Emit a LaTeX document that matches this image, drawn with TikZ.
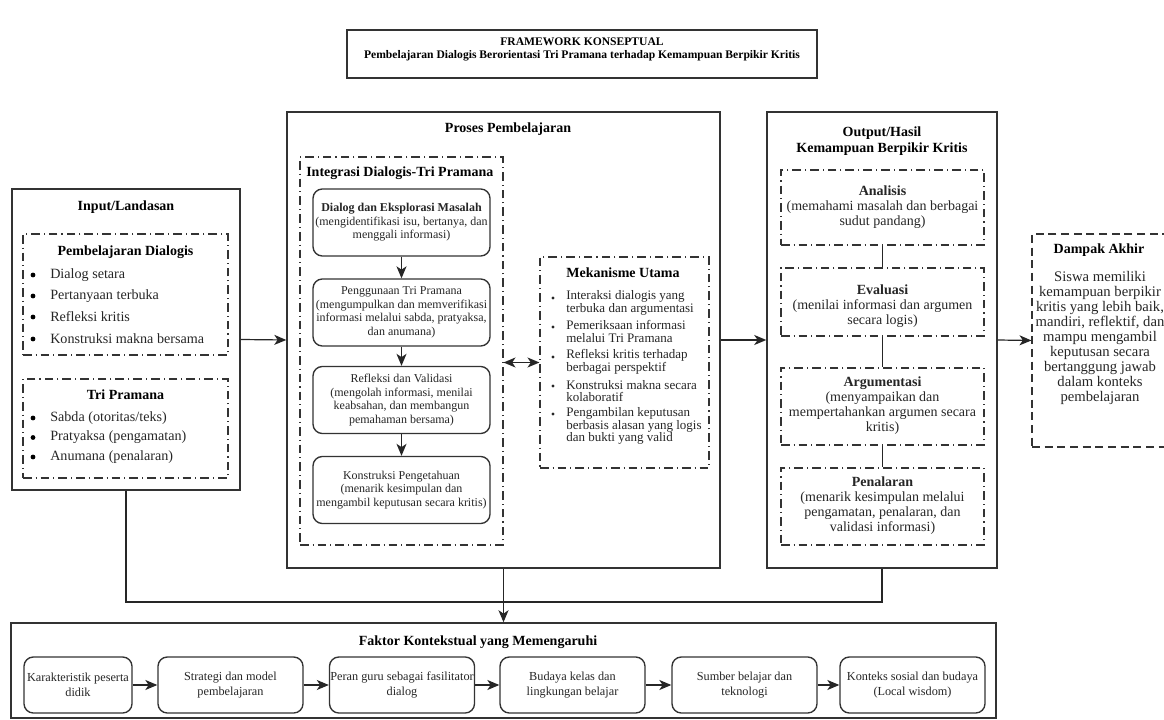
\documentclass[tikz,border=0pt]{standalone}
\usepackage{fontspec}
\setmainfont{Liberation Serif}
\usetikzlibrary{arrows.meta,fit,calc}
\tikzset{
  cont/.style={draw=black!80, line width=1.1pt, inner sep=0pt},
  dd/.style={draw=black!80, line width=0.8pt, dash pattern=on 6.5pt off 3pt on 0.8pt off 3pt, inner sep=0pt},
  dsh/.style={draw=black!80, line width=0.8pt, dash pattern=on 6pt off 3.5pt, inner sep=0pt},
  rbox/.style={draw=black!80, line width=1pt, rounded corners=7pt, align=center, inner sep=0pt, text=black!85},
  arr/.style={-{Stealth[length=9pt,width=7.5pt,inset=2.5pt]}, line width=0.9pt, draw=black!85},
  darr/.style={{Stealth[length=9pt,width=7.5pt,inset=2.5pt]}-{Stealth[length=9pt,width=7.5pt,inset=2.5pt]}, line width=0.9pt, draw=black!85},
  ln/.style={line width=0.9pt, draw=black!85},
  hd/.style={font=\fontsize{10.5}{12}\selectfont\bfseries, inner sep=0pt, align=center},
  it/.style={font=\fontsize{10.6}{12}\selectfont, inner sep=0pt, anchor=west, text=black!85},
  bul/.style={circle, fill=black, inner sep=0pt, minimum size=3.6pt},
  mit/.style={font=\fontsize{9.75}{9.4}\selectfont, inner sep=0pt, anchor=west, align=left, text=black!85},
  mbul/.style={circle, fill=black!85, inner sep=0pt, minimum size=2.3pt},
  ib/.style={rbox, minimum width=132.75pt, minimum height=50.25pt, font=\fontsize{9}{10.1}\selectfont},
  fb/.style={rbox, minimum width=108.75pt, minimum height=42pt, font=\fontsize{9.2}{11.25}\selectfont},
  ot/.style={inner sep=0pt, align=center, font=\fontsize{10.5}{11.25}\selectfont, text=black!85},
}
\begin{document}
\begin{tikzpicture}[x=0.75pt,y=-0.75pt]
\useasboundingbox (0,0) rectangle (1164,720);
\fill[white] (0,0) rectangle (1164,720);

% Title
\node[cont, fit={(347,30) (817,78)}] (titlebox) {};
\node[inner sep=0pt, align=center, font=\fontsize{8.7}{9.9}\selectfont\bfseries] (title) at (582,49.5) {FRAMEWORK KONSEPTUAL\\Pembelajaran Dialogis Berorientasi Tri Pramana terhadap Kemampuan Berpikir Kritis};

% Input
\node[cont, fit={(12,189) (240,490)}] (inp) {};
\node[hd] (inph) at (126,207) {Input/Landasan};
\node[dd, fit={(23,234) (228,355)}] (pd) {};
\node[hd] (pdh) at (125.5,252) {Pembelajaran Dialogis};
\node[bul] (b1) at (33,275) {}; \node[it] (i1) at (50,275) {Dialog setara};
\node[bul] (b2) at (33,296) {}; \node[it] (i2) at (50,296) {Pertanyaan terbuka};
\node[bul] (b3) at (33,317) {}; \node[it] (i3) at (50,317) {Refleksi kritis};
\node[bul] (b4) at (33,339) {}; \node[it] (i4) at (50,339) {Konstruksi makna bersama};
\node[dd, fit={(23,379) (228,478)}] (tp) {};
\node[hd] (tph) at (125.5,395) {Tri Pramana};
\node[bul] (b5) at (33,418) {}; \node[it] (i5) at (50,418) {Sabda (otoritas/teks)};
\node[bul] (b6) at (33,437.5) {}; \node[it] (i6) at (50,437.5) {Pratyaksa (pengamatan)};
\node[bul] (b7) at (33,457) {}; \node[it] (i7) at (50,457) {Anumana (penalaran)};

% Proses
\node[cont, fit={(287,112) (720,568)}] (proc) {};
\node[hd] (proch) at (508,129) {Proses Pembelajaran};
\node[dd, fit={(300,157) (503,545)}] (integ) {};
\node[hd, anchor=west] (integh) at (306,173) {Integrasi Dialogis-Tri Pramana};
\node[ib] (s1) at (401.5,222.5) {\textbf{Dialog dan Eksplorasi Masalah}\\(mengidentifikasi isu, bertanya, dan\\menggali informasi)};
\node[ib] (s2) at (401.5,312.5) {Penggunaan Tri Pramana\\(mengumpulkan dan memverifikasi\\informasi melalui sabda, pratyaksa,\\dan anumana)};
\node[ib] (s3) at (401.5,400) {Refleksi dan Validasi\\(mengolah informasi, menilai\\keabsahan, dan membangun\\pemahaman bersama)};
\node[ib] (s4) at (401.5,490) {Konstruksi Pengetahuan\\(menarik kesimpulan dan\\mengambil keputusan secara kritis)};
\draw[arr] (s1) -- (s2);
\draw[arr] (s2) -- (s3);
\draw[arr] (s3) -- (s4);

\node[dd, fit={(540,257) (709,468)}] (mek) {};
\node[hd] (mekh) at (623,273) {Mekanisme Utama};
\node[mbul] (m1b) at (553,298) {}; \node[mit] (m1) at (566,303) {Interaksi dialogis yang\\terbuka dan argumentasi};
\node[mbul] (m2b) at (553,327) {}; \node[mit] (m2) at (566,331.5) {Pemeriksaan informasi\\melalui Tri Pramana};
\node[mbul] (m3b) at (553,357) {}; \node[mit] (m3) at (566,362) {Refleksi kritis terhadap\\berbagai perspektif};
\node[mbul] (m4b) at (553,386) {}; \node[mit] (m4) at (566,391) {Konstruksi makna secara\\kolaboratif};
\node[mbul] (m5b) at (553,414) {}; \node[mit] (m5) at (566,426) {Pengambilan keputusan\\berbasis alasan yang logis\\dan bukti yang valid};
\draw[darr] (integ.east |- mek.west) -- (mek.west);

% Output
\node[cont, fit={(767,112) (997,568)}] (outp) {};
\node[hd] (outh) at (882,141) {Output/Hasil\\Kemampuan Berpikir Kritis};
\node[dd, fit={(781,170) (984,245)}] (ana) {};
\node[ot] (anat) at (882.5,207) {\textbf{Analisis}\\(memahami masalah dan berbagai\\sudut pandang)};
\node[dd, fit={(781,268) (984,336)}] (eva) {};
\node[ot] (evat) at (882.5,306) {\textbf{Evaluasi}\\(menilai informasi dan argumen\\secara logis)};
\node[dd, fit={(781,368) (984,445)}] (arg) {};
\node[ot] (argt) at (882.5,406) {\textbf{Argumentasi}\\(menyampaikan dan\\mempertahankan argumen secara\\kritis)};
\node[dd, fit={(781,468) (984,545)}] (pen) {};
\node[ot] (pent) at (882.5,505.5) {\textbf{Penalaran}\\(menarik kesimpulan melalui\\pengamatan, penalaran, dan\\validasi informasi)};
\draw[ln] (ana.south) -- (eva.north);
\draw[ln] (eva.south) -- (arg.north);
\draw[ln] (arg.south) -- (pen.north);

% Dampak
\node[dsh, fit={(1032,234) (1172,447)}] (dam) {};
\node[hd] (damh) at (1099,250) {Dampak Akhir};
\node[inner sep=0pt, align=center, font=\fontsize{11}{11.25}\selectfont, text=black!85] (damt) at (1100,337.5) {Siswa memiliki\\kemampuan berpikir\\kritis yang lebih baik,\\mandiri, reflektif, dan\\mampu mengambil\\keputusan secara\\bertanggung jawab\\dalam konteks\\pembelajaran};

% main arrows
\draw[arr] (inp.east) -- (proc.west);
\draw[arr] (proc.east) -- (outp.west);
\draw[arr] (outp.east) -- (dam.west);

% Faktor
\node[cont, fit={(11,623) (996,718)}] (fak) {};
\node[hd] (fakh) at (478,642) {Faktor Kontekstual yang Memengaruhi};
\node[fb, minimum width=81pt] (f1) at (78,685) {Karakteristik peserta\\didik};
\node[fb] (f2) at (230.5,685) {Strategi dan model\\pembelajaran};
\node[fb] (f3) at (402,685) {Peran guru sebagai fasilitator\\dialog};
\node[fb] (f4) at (572.5,685) {Budaya kelas dan\\lingkungan belajar};
\node[fb] (f5) at (744.5,685) {Sumber belajar dan\\teknologi};
\node[fb] (f6) at (912.5,685) {Konteks sosial dan budaya\\(Local wisdom)};
\draw[arr] (f1) -- (f2);
\draw[arr] (f2) -- (f3);
\draw[arr] (f3) -- (f4);
\draw[arr] (f4) -- (f5);
\draw[arr] (f5) -- (f6);

% bottom connectors
\coordinate (jl) at (inp.south |- 0,602);
\coordinate (jr) at (outp.south |- 0,602);
\draw[ln] (inp.south) -- (jl) -- (jr) -- (outp.south);
\draw[arr] (proc.south) -- (fak.north);
\end{tikzpicture}
\end{document}
